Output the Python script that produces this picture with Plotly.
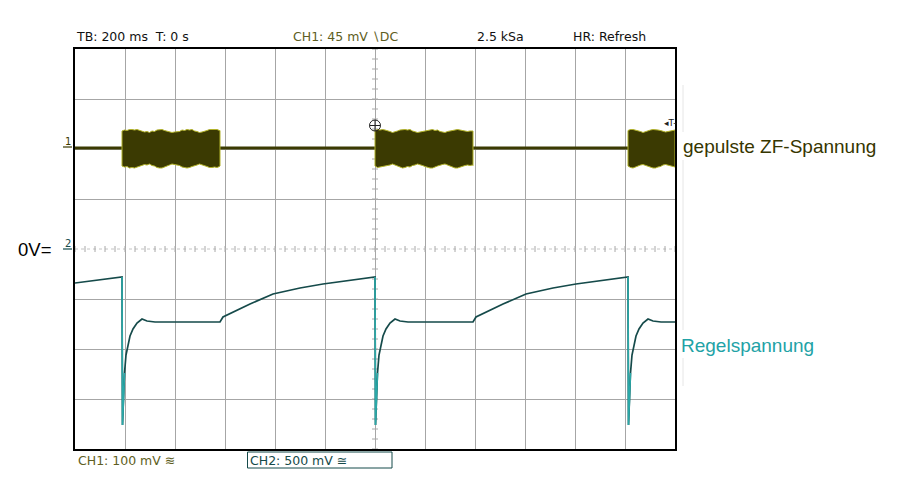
import plotly.graph_objects as go

# ---------------- data ----------------
# time axis: 200 ms/div, trigger at centre -> -1.2 s ... +1.2 s
ch1_scale_mV = 100          # CH1: 100 mV/div
ch1_offset_div = 2.02       # CH1 ground marker position (divisions above centre)
ch1_trig_mV = 45            # CH1 trigger level
ch2_scale_V = 0.5           # CH2: 500 mV/div, 0 V at centre

# CH1 baseline segments (between bursts), mV
base_seg_t = [[-1.200, -1.012], [-0.620, 0.000], [0.392, 1.012]]
base_seg_mV = [[0, 0], [0, 0], [0, 0]]

# CH1 burst envelopes (pulsed IF), mV
burst1_t = [-1.012, -1.002, -0.992, -0.982, -0.972, -0.962, -0.952, -0.942, -0.932, -0.922,
            -0.912, -0.902, -0.892, -0.882, -0.872, -0.862, -0.852, -0.842, -0.832, -0.822,
            -0.812, -0.802, -0.792, -0.782, -0.772, -0.762, -0.752, -0.742, -0.732, -0.722,
            -0.712, -0.702, -0.692, -0.682, -0.672, -0.662, -0.652, -0.642, -0.632, -0.622, -0.620]
burst1_hi = [34, 36, 35, 37, 37, 36, 37, 35, 34, 32, 33, 31, 34, 33, 36, 37, 37, 35, 34, 33,
             31, 32, 33, 33, 36, 35, 37, 36, 37, 34, 33, 31, 32, 33, 35, 37, 37, 36, 37, 35, 35]
burst1_lo = [-36, -38, -37, -40, -39, -40, -38, -36, -35, -33, -34, -32, -35, -36, -39, -40, -40, -38, -36, -34,
             -32, -33, -34, -35, -38, -39, -40, -39, -37, -35, -34, -32, -33, -35, -37, -39, -39, -38, -39, -37, -36]

burst2_t = [0.000, 0.010, 0.020, 0.030, 0.040, 0.050, 0.060, 0.070, 0.080, 0.090,
            0.100, 0.110, 0.120, 0.130, 0.140, 0.150, 0.160, 0.170, 0.180, 0.190,
            0.200, 0.210, 0.220, 0.230, 0.240, 0.250, 0.260, 0.270, 0.280, 0.290,
            0.300, 0.310, 0.320, 0.330, 0.340, 0.350, 0.360, 0.370, 0.380, 0.390, 0.392]
burst2_hi = [35, 37, 36, 37, 36, 35, 33, 31, 32, 34, 36, 37, 37, 36, 37, 34, 33, 31, 32, 33,
             34, 36, 37, 37, 35, 36, 33, 32, 31, 33, 34, 36, 37, 37, 36, 35, 33, 33, 34, 33, 34]
burst2_lo = [-36, -39, -39, -38, -37, -35, -34, -32, -33, -36, -38, -40, -39, -37, -38, -35, -34, -32, -33, -35,
             -37, -39, -40, -40, -38, -36, -34, -33, -32, -34, -36, -38, -40, -40, -38, -37, -35, -34, -35, -34, -35]

burst3_t = [1.012, 1.022, 1.032, 1.042, 1.052, 1.062, 1.072, 1.082, 1.092, 1.102,
            1.112, 1.122, 1.132, 1.142, 1.152, 1.162, 1.172, 1.182, 1.192, 1.200]
burst3_hi = [35, 37, 37, 36, 34, 33, 31, 33, 34, 36, 37, 37, 36, 35, 33, 32, 33, 34, 35, 36]
burst3_lo = [-36, -39, -40, -39, -36, -34, -33, -34, -36, -38, -40, -40, -38, -37, -34, -33, -34, -35, -37, -38]

# CH2 control voltage (Regelspannung), V
ch2_t = [-1.200, -1.100, -1.012, -1.010, -1.006, -1.002, -0.996, -0.988, -0.980, -0.968,
         -0.952, -0.932, -0.912, -0.880, -0.620, -0.608, -0.568, -0.500, -0.408, -0.300,
         -0.208, -0.100, 0.000, 0.002, 0.006, 0.010, 0.016, 0.024, 0.032, 0.044,
         0.060, 0.080, 0.100, 0.132, 0.392, 0.404, 0.444, 0.512, 0.604, 0.712,
         0.804, 0.912, 1.012, 1.014, 1.018, 1.022, 1.028, 1.036, 1.044, 1.056,
         1.072, 1.092, 1.112, 1.144, 1.200]
ch2_V = [-0.34, -0.31, -0.28, -1.76, -1.50, -1.24, -1.06, -0.96, -0.87, -0.80,
         -0.74, -0.70, -0.72, -0.73, -0.73, -0.68, -0.63, -0.55, -0.45, -0.39,
         -0.35, -0.31, -0.28, -1.76, -1.50, -1.24, -1.06, -0.96, -0.87, -0.80,
         -0.74, -0.70, -0.72, -0.73, -0.73, -0.68, -0.63, -0.55, -0.45, -0.39,
         -0.35, -0.31, -0.28, -1.76, -1.50, -1.24, -1.06, -0.96, -0.87, -0.80,
         -0.74, -0.70, -0.72, -0.73, -0.73]

# ---------------- helpers ----------------
def ch1_div(v):
    return ch1_offset_div + v / ch1_scale_mV

def ch2_div(v):
    return v / ch2_scale_V

# plot area in page pixels: x 75..675, y 49..449
def px(x):
    return (x - 75) / 600.0

def py(y):
    return (449 - y) / 400.0

OLIVE_DARK = '#3b3a02'
OLIVE_TXT = '#5e5e22'
TEAL_DARK = '#154a4a'
TEAL_LIGHT = '#2aa8a8'

fig = go.Figure()

# ---------------- graticule details ----------------
gx, gy = [], []
for k in range(-20, 21):                 # minor ticks on vertical centre line
    yv = k * 0.2
    gx += [-0.012, 0.012, None]
    gy += [yv, yv, None]
for k in range(-30, 31):                 # minor ticks on horizontal centre line
    xv = k * 0.04
    gx += [xv, xv, None]
    gy += [-0.06, 0.06, None]
fig.add_trace(go.Scatter(x=[-1.2, 1.2], y=[0, 0], mode='lines',
                         line=dict(color='#c4c4c4', width=1, dash='dot'), hoverinfo='skip'))
fig.add_trace(go.Scatter(x=gx, y=gy, mode='lines', line=dict(color='#a8a8a8', width=1),
                         hoverinfo='skip'))

# ---------------- CH1 ----------------
for st, sv in zip(base_seg_t, base_seg_mV):
    fig.add_trace(go.Scatter(x=st, y=[ch1_div(v) for v in sv], mode='lines',
                             line=dict(color=OLIVE_DARK, width=3), hoverinfo='skip'))
for bt, bh, bl in [(burst1_t, burst1_hi, burst1_lo),
                   (burst2_t, burst2_hi, burst2_lo),
                   (burst3_t, burst3_hi, burst3_lo)]:
    xs = list(bt) + list(bt[::-1]) + [bt[0]]
    ys = [ch1_div(v) for v in bh] + [ch1_div(v) for v in bl[::-1]] + [ch1_div(bh[0])]
    fig.add_trace(go.Scatter(x=xs, y=ys, mode='lines', fill='toself',
                             fillcolor=OLIVE_DARK, line=dict(color='#b2b22a', width=1),
                             hoverinfo='skip'))

# ---------------- CH2 ----------------
fig.add_trace(go.Scatter(x=ch2_t, y=[ch2_div(v) for v in ch2_V], mode='lines',
                         line=dict(color=TEAL_DARK, width=1.7), hoverinfo='skip'))
# fast transitions are drawn lighter on the scope screen
for i in range(len(ch2_V) - 1):
    if ch2_V[i] - ch2_V[i + 1] > 1.0:
        seg = slice(i, i + 4)
        fig.add_trace(go.Scatter(x=ch2_t[seg], y=[ch2_div(v) for v in ch2_V[seg]],
                                 mode='lines', line=dict(color=TEAL_LIGHT, width=1.6),
                                 hoverinfo='skip'))

# ---------------- screen markers ----------------
fig.add_trace(go.Scatter(x=[0], y=[4.04], mode='markers', cliponaxis=False,
                         marker=dict(symbol='triangle-down', size=9, color='#333333'),
                         hoverinfo='skip'))
fig.add_trace(go.Scatter(x=[0], y=[ch1_div(ch1_trig_mV)], mode='markers', cliponaxis=False,
                         marker=dict(symbol='circle-cross-open', size=11, color='#222222',
                                     line=dict(width=1)), hoverinfo='skip'))
fig.add_trace(go.Scatter(x=[-1.212], y=[ch1_div(0)], mode='markers', cliponaxis=False,
                         marker=dict(symbol='triangle-right', size=7, color=OLIVE_DARK),
                         hoverinfo='skip'))
fig.add_trace(go.Scatter(x=[-1.212], y=[0], mode='markers', cliponaxis=False,
                         marker=dict(symbol='triangle-right', size=7, color=TEAL_DARK),
                         hoverinfo='skip'))

shapes = [
    dict(type='line', xref='paper', yref='paper', x0=px(63), x1=px(72), y0=py(147), y1=py(147),
         line=dict(color=OLIVE_DARK, width=1.2)),
    dict(type='line', xref='paper', yref='paper', x0=px(63), x1=px(72), y0=py(249), y1=py(249),
         line=dict(color=TEAL_DARK, width=1.2)),
    dict(type='rect', xref='paper', yref='paper', x0=px(247.5), x1=px(392), y0=py(468),
         y1=py(452), line=dict(color=TEAL_DARK, width=1)),
    dict(type='line', xref='paper', yref='paper', x0=px(683), x1=px(683), y0=py(85), y1=py(132),
         line=dict(color='#e6e6e6', width=1)),
    dict(type='line', xref='paper', yref='paper', x0=px(683), x1=px(683), y0=py(160), y1=py(330),
         line=dict(color='#e6e6e6', width=1)),
    dict(type='line', xref='paper', yref='paper', x0=px(683), x1=px(683), y0=py(358), y1=py(386),
         line=dict(color='#e6e6e6', width=1)),
]

def ann(text, x, y, size, color, family='DejaVu Sans', anchor='left'):
    return dict(text=text, xref='paper', yref='paper', x=px(x), y=py(y), xanchor=anchor,
                yanchor='middle', showarrow=False, font=dict(size=size, color=color, family=family))

annotations = [
    ann('TB: 200 ms  T: 0 s', 74, 36, 12.5, '#111111'),
    ann('CH1: 45 mV \u2216DC', 291, 36, 12.5, OLIVE_TXT),
    ann('2.5 kSa', 475, 36, 12.5, '#111111'),
    ann('HR: Refresh', 571, 36, 12.5, '#111111'),
    ann('gepulste ZF-Spannung', 681, 146, 19, '#363600', 'Liberation Sans'),
    ann('Regelspannung', 679, 345, 19, '#22a2a6', 'Liberation Sans'),
    ann('0V=', 16, 249, 18.5, '#000000', 'Liberation Sans'),
    ann('1', 63, 141, 10, OLIVE_DARK),
    ann('2', 63, 243, 10, TEAL_DARK),
    ann('\u25c2T-', 662, 123, 9, '#222222'),
    ann('CH1: 100 mV \u224b', 76, 460, 12.5, OLIVE_TXT),
    ann('CH2: 500 mV \u2245', 248, 460, 12.5, TEAL_DARK),
]

# the page body has an 8 px margin, so the figure is made 8 px smaller and
# its margins are shifted so the screen lands at page x 75..675, y 49..449
fig.update_layout(
    width=892, height=482, autosize=False,
    margin=dict(l=67, r=225, t=41, b=41),
    paper_bgcolor='white', plot_bgcolor='white', showlegend=False,
    xaxis=dict(range=[-1.2, 1.2], tickvals=[-1.0, -0.8, -0.6, -0.4, -0.2, 0.0, 0.2, 0.4, 0.6, 0.8, 1.0],
               showticklabels=False, ticks='', showgrid=True, gridcolor='#a6a6a6', gridwidth=1,
               zeroline=False, showline=True, linecolor='black', linewidth=1.5, mirror=True,
               fixedrange=True),
    yaxis=dict(range=[-4, 4], tickvals=[-3, -2, -1, 1, 2, 3], showticklabels=False, ticks='',
               showgrid=True, gridcolor='#a6a6a6', gridwidth=1, zeroline=False, showline=True,
               linecolor='black', linewidth=1.5, mirror=True, fixedrange=True),
    shapes=shapes, annotations=annotations,
)

fig.write_html('out.html', config={'displayModeBar': False})
